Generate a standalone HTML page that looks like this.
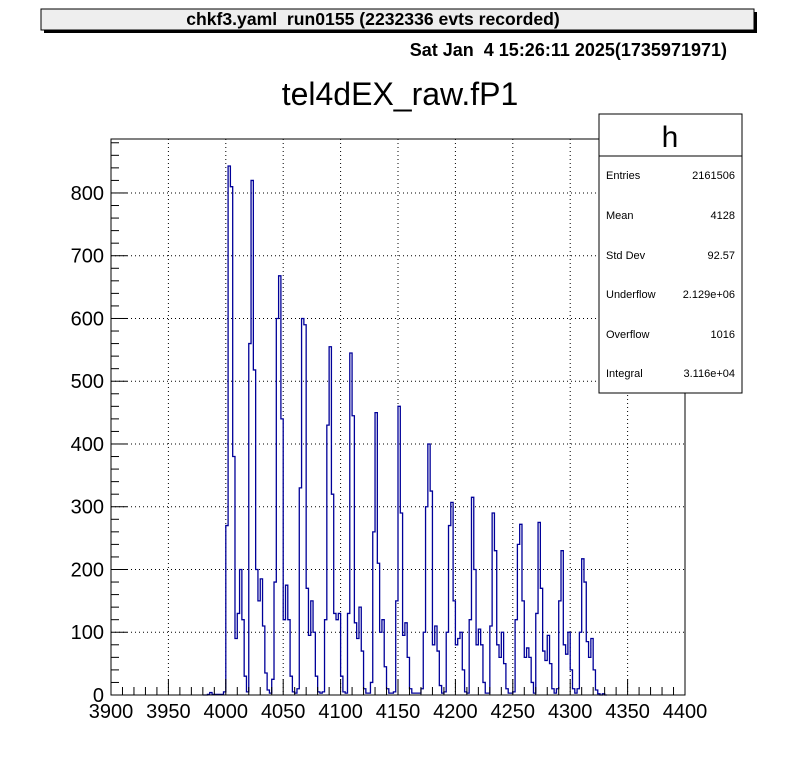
<!DOCTYPE html>
<html><head><meta charset="utf-8">
<style>
body{margin:0;background:#fff;}
svg{display:block;font-family:"Liberation Sans",sans-serif;}
text{white-space:pre;}
</style></head>
<body>
<svg id="c" width="796" height="772" xmlns="http://www.w3.org/2000/svg">
<rect x="0" y="0" width="796" height="772" fill="#fff"/>
<g>
<rect x="44" y="12" width="713" height="21" fill="#000"/>
<rect x="41" y="9" width="713" height="21" fill="#eeeeee" stroke="#000" stroke-width="1"/>
<text x="373" y="25" text-anchor="middle" font-size="17.6" font-weight="bold">chkf3.yaml  run0155 (2232336 evts recorded)</text>
</g>
<text x="727" y="56" text-anchor="end" font-size="18" font-weight="bold">Sat Jan  4 15:26:11 2025(1735971971)</text>
<text x="400" y="105" text-anchor="middle" font-size="32">tel4dEX_raw.fP1</text>
<g id="grid"></g>
<g id="hist"></g>
<rect x="111" y="139" width="574" height="556" fill="none" stroke="#000" stroke-width="1"/>
<g id="axes"></g>
<g>
<rect x="599" y="114" width="143" height="279" fill="#fff" stroke="#000" stroke-width="1"/>
<text x="670" y="147" text-anchor="middle" font-size="30">h</text>
<line x1="599" y1="156" x2="742" y2="156" stroke="#000"/>
<g font-size="11">
<text x="606" y="179">Entries</text><text x="735" y="179" text-anchor="end">2161506</text>
<text x="606" y="219">Mean</text><text x="735" y="219" text-anchor="end">4128</text>
<text x="606" y="259">Std Dev</text><text x="735" y="259" text-anchor="end">92.57</text>
<text x="606" y="298">Underflow</text><text x="735" y="298" text-anchor="end">2.129e+06</text>
<text x="606" y="338">Overflow</text><text x="735" y="338" text-anchor="end">1016</text>
<text x="606" y="377">Integral</text><text x="735" y="377" text-anchor="end">3.116e+04</text>
</g>
</g>
</svg>
<script>
const binStart = 3980;
const binWidth = 2;
const counts = [0,0,1,4,1,1,1,1,1,5,270,843,810,380,90,130,200,120,30,5,
560,820,518,200,150,185,110,35,8,3,25,180,600,668,440,120,175,120,30,5,
3,10,330,600,590,170,95,150,100,30,5,3,5,120,430,555,320,130,120,130,
30,5,3,130,545,445,115,90,140,70,10,3,3,20,260,450,210,100,120,45,
10,3,3,5,150,460,290,95,115,60,10,3,3,3,3,10,100,300,400,325,
80,110,70,15,3,5,100,270,307,150,80,90,100,40,5,3,120,315,200,80,
105,80,20,3,3,110,290,230,80,60,100,50,10,3,3,5,120,240,272,150,
60,75,60,20,3,130,275,170,70,55,95,50,10,3,10,150,230,80,65,100,
40,10,3,10,100,217,180,85,60,90,40,8,2,0,2,0];
const xTicks = [3900,3950,4000,4050,4100,4150,4200,4250,4300,4350,4400];
const yTicks = [0,100,200,300,400,500,600,700,800];
const X0=111,X1=685,Y0=695,Y1=139,xmin=3900,xmax=4400,ymin=0,ymax=886;
const xs=v=>X0+(v-xmin)/(xmax-xmin)*(X1-X0);
const ys=v=>Y0-(v-ymin)/(ymax-ymin)*(Y0-Y1);
const NS="http://www.w3.org/2000/svg";
function mk(t,a,p){const e=document.createElementNS(NS,t);for(const k in a)e.setAttribute(k,a[k]);p.appendChild(e);return e;}
const grid=document.getElementById('grid'),axes=document.getElementById('axes'),hist=document.getElementById('hist');
xTicks.forEach((v,i)=>{
  if(i>0&&i<xTicks.length-1){const g=mk('line',{x1:xs(v),x2:xs(v),y1:Y1,y2:Y0,stroke:'#000','stroke-dasharray':'1,3'},grid);
  
  }
  const t=mk('line',{x1:xs(v),x2:xs(v),y1:Y0,y2:Y0-16,stroke:'#000'},axes);
  
  
  const l=mk('text',{x:xs(v),y:Y0+23,'text-anchor':'middle','font-size':'20'},axes);
  l.textContent=v;
  
  
});
for(let v=xmin;v<=xmax;v+=10){if(v%50===0)continue;
  const t=mk('line',{x1:xs(v),x2:xs(v),y1:Y0,y2:Y0-8,stroke:'#000'},axes);
  
  }
yTicks.forEach((v,i)=>{
  if(i>0){const g=mk('line',{x1:X0,x2:X1,y1:ys(v),y2:ys(v),stroke:'#000','stroke-dasharray':'1,3'},grid);
  
  }
  const t=mk('line',{x1:X0,x2:X0+16,y1:ys(v),y2:ys(v),stroke:'#000'},axes);
  
  
  const l=mk('text',{x:X0-7,y:ys(v)+7,'text-anchor':'end','font-size':'20'},axes);
  l.textContent=v;
  
  
});
for(let v=0;v<=ymax;v+=20){if(v%100===0)continue;
  const t=mk('line',{x1:X0,x2:X0+8,y1:ys(v),y2:ys(v),stroke:'#000'},axes);
  
  }
let d='M'+xs(binStart)+','+ys(0);
counts.forEach((c,i)=>{const a=binStart+i*binWidth;d+=' L'+xs(a)+','+ys(c)+' L'+xs(a+binWidth)+','+ys(c);});
d+=' L'+xs(binStart+counts.length*binWidth)+','+ys(0);
const p=mk('path',{d:d,fill:'none',stroke:'#000099','stroke-width':'1.3'},hist);


</script>
</body></html>
